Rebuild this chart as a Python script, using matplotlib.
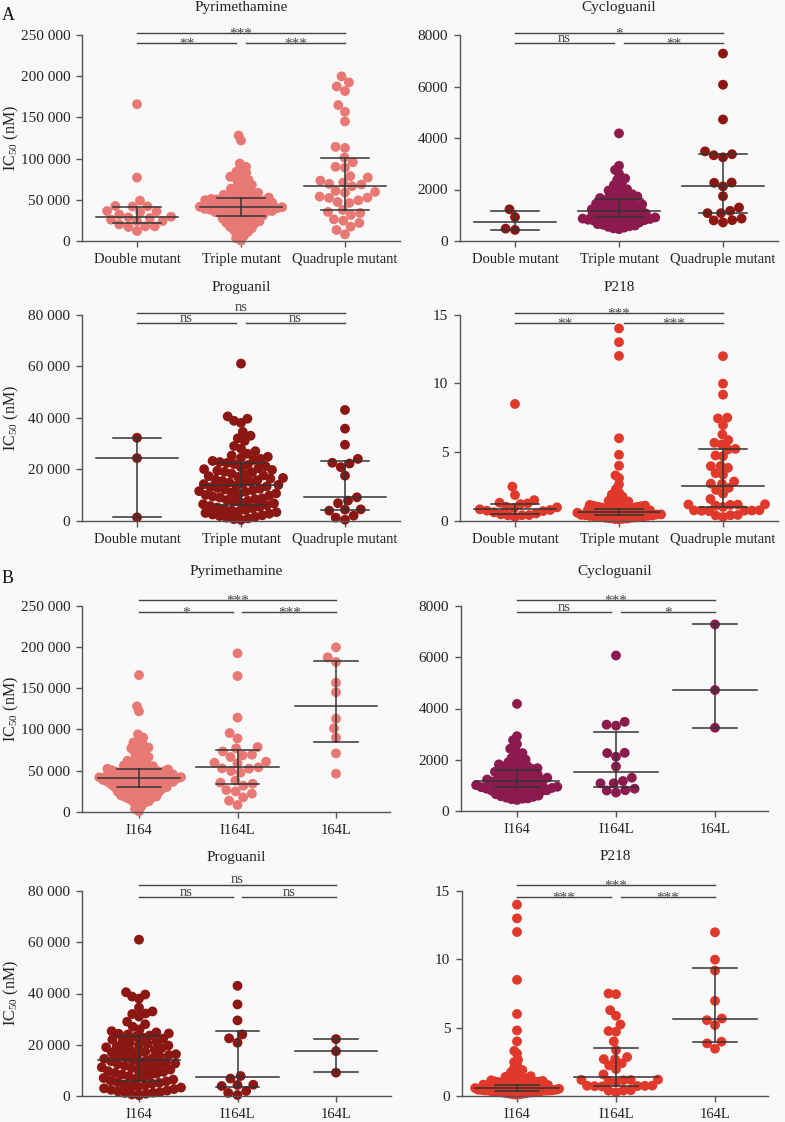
import numpy as np
import matplotlib
matplotlib.use("Agg")
import matplotlib.pyplot as plt
from matplotlib.transforms import blended_transform_factory

plt.rcParams['font.family'] = ['Liberation Serif', 'DejaVu Serif']
plt.rcParams['mathtext.fontset'] = 'custom'
plt.rcParams['mathtext.rm'] = 'Liberation Serif'

# ---------------- data ----------------
CAT_A = ["Double mutant", "Triple mutant", "Quadruple mutant"]
CAT_B = ["I164", "I164L", "164L"]

PYR_DOUBLE = [166000, 77000, 49000, 42500, 42000, 41800, 36400, 36000, 34800, 32000, 29500,
              28700, 27900, 25900, 24300, 23900, 20200, 17800, 17800, 17000, 12100]
PYR_TRIPLE = [128000, 122000, 94000, 90000, 87500, 84000, 82500, 80500, 78000, 76500, 74000,
              72500, 70500, 68000, 66500, 65000, 63500, 62000, 61000, 60000, 58500, 57200,
              56100, 55300, 54200, 53600, 52800, 52100, 51400, 51000, 50400, 50000, 49600,
              49100, 48500, 48100, 47400, 47000, 46600, 46000, 45400, 45000, 44300, 44000,
              43500, 43100, 42600, 42000, 41500, 41100, 40800, 40400, 40100, 39800, 39400,
              38900, 38600, 38000, 37400, 37000, 36400, 36100, 35500, 35000, 34400, 34000,
              33100, 32500, 31900, 31000, 30600, 30000, 29100, 28200, 27000, 26100, 25200,
              24000, 23100, 22000, 21200, 19800, 18600, 17100, 15400, 14100, 12600, 10900,
              9100, 6200, 3400, 500]
PYR_I164L = [192500, 164900, 114300, 95600, 89100, 78600, 77000, 73300, 69300, 68500, 66500,
             60800, 59600, 58700, 53900, 52700, 52300, 49400, 47400, 37700, 35300, 34000,
             31600, 26300, 24700, 21900, 17400, 13400, 8100]
PYR_164L = [199800, 187600, 182000, 156800, 145100, 113000, 101300, 90000, 70900, 46200]
PYR_A_MED = [29500, 41500, 66700]
PYR_A_Q1 = [22200, 30700, 37500]
PYR_A_Q3 = [41300, 52600, 101100]
PYR_B_MED = [40500, 53900, 128900]
PYR_B_Q1 = [30400, 33200, 85100]
PYR_B_Q3 = [51500, 75000, 183500]

CYC_DOUBLE = [1230, 930, 430, 480]
CYC_TRIPLE = [4180, 2920, 2760, 2610, 2430, 2370, 2260, 2170, 2080, 2010, 1960, 1910, 1870,
              1820, 1790, 1760, 1730, 1700, 1670, 1640, 1610, 1590, 1560, 1530, 1500, 1470,
              1450, 1420, 1400, 1370, 1350, 1320, 1300, 1280, 1250, 1230, 1210, 1190, 1170,
              1150, 1130, 1110, 1090, 1070, 1050, 1030, 1010, 990, 975, 960, 945, 930, 915,
              900, 885, 870, 855, 840, 825, 810, 795, 780, 765, 745, 725, 705, 680, 655, 630,
              600, 575, 550, 520, 490, 460]
CYC_I164L = [6070, 3480, 3370, 3330, 2270, 2260, 2120, 1740, 1300, 1170, 1080, 1080, 870,
             800, 810, 720]
CYC_164L = [7280, 4720, 3250]
CYC_A_MED = [725, 1180, 2120]
CYC_A_Q1 = [440, 930, 1070]
CYC_A_Q3 = [1180, 1620, 3380]
CYC_B_MED = [1170, 1535, 4720]
CYC_B_Q1 = [920, 920, 3250]
CYC_B_Q3 = [1590, 3070, 7280]

PRO_DOUBLE = [32200, 24300, 1300]
PRO_TRIPLE = [61000, 40500, 39600, 38800, 38000,
              34500, 33000, 32000, 31000,
              29000, 28000, 27000, 26000, 25300,
              24800, 24400, 24000, 23600, 23200, 22800, 22400, 22000, 21600, 21200, 20800,
              20400, 20000,
              19700, 19400, 19000, 18700, 18300, 18000, 17600, 17300, 17000, 16600, 16300,
              16000, 15700, 15400, 15100,
              14800, 14500, 14200, 13900, 13600, 13300, 13000, 12700, 12400, 12100, 11800,
              11500, 11200, 10900, 10600, 10300, 10000,
              9700, 9400, 9000, 8700, 8400, 8000, 7700, 7400, 7000, 6700, 6400, 6000, 5700,
              5400, 5100,
              4800, 4500, 4200, 3900, 3600, 3300, 3000, 2700, 2400, 2100,
              1800, 1500, 1200, 900, 600, 300]
PRO_I164L = [43000, 35750, 29500, 24000, 22500, 20800, 7800, 6800, 4300, 4400, 3900, 1950,
             1200, 400]
PRO_164L = [22200, 17500, 9100]
PRO_A_MED = [24300, 13800, 9200]
PRO_A_Q1 = [1300, 5950, 4140]
PRO_A_Q3 = [32200, 22300, 23200]
PRO_B_MED = [14000, 7300, 17600]
PRO_B_Q1 = [5980, 3500, 9200]
PRO_B_Q3 = [23400, 25400, 22300]

P218_DOUBLE = [8.5, 2.48, 1.87, 1.5, 1.31, 1.26, 1.21, 1.02, 0.97, 0.92, 0.83, 0.78, 0.73,
               0.70, 0.61, 0.53, 0.46, 0.41, 0.40, 0.39, 0.27]
P218_TRIPLE = [14.0, 13.0, 12.0, 6.0, 4.8, 4.0, 3.3, 3.1, 2.65, 2.3, 2.05, 1.9, 1.75, 1.65,
               1.55, 1.45, 1.4, 1.3, 1.25, 1.2, 1.15, 1.12, 1.1, 1.08, 1.05, 1.02, 1.0, 0.98,
               0.95, 0.92, 0.9, 0.88, 0.85, 0.82, 0.8, 0.78, 0.75, 0.72, 0.7, 0.68, 0.66, 0.64,
               0.62, 0.6, 0.58, 0.56, 0.55, 0.53, 0.52, 0.5, 0.48, 0.46, 0.45, 0.43, 0.42,
               0.4, 0.38, 0.36, 0.35, 0.33, 0.31, 0.3, 0.28, 0.26, 0.24, 0.22, 0.2, 0.18,
               0.16, 0.14, 0.12, 0.1]
P218_I164L = [7.5, 7.45, 6.28, 5.87, 5.23, 4.75, 4.70, 3.99, 3.36, 2.85, 2.7, 2.68, 2.39,
              2.24, 1.97, 1.58, 1.2, 1.18, 1.17, 1.15, 1.1, 1.0, 0.76, 0.75, 0.74, 0.73, 0.72,
              0.7, 0.42, 0.4, 0.39, 0.27]
P218_164L = [11.98, 9.98, 9.18, 6.96, 5.67, 5.55, 5.19, 3.97, 3.85, 3.46]
P218_A_MED = [0.87, 0.6, 2.55]
P218_A_Q1 = [0.46, 0.41, 1.02]
P218_A_Q3 = [1.19, 0.83, 5.19]
P218_B_MED = [0.58, 1.36, 5.6]
P218_B_Q1 = [0.39, 0.73, 3.94]
P218_B_Q3 = [0.8, 3.48, 9.37]

SIG_PYR_A = ["***", "**", "***"]
SIG_CYC_A = ["*", "ns", "**"]
SIG_PRO_A = ["ns", "ns", "ns"]
SIG_P218_A = ["***", "**", "***"]
SIG_PYR_B = ["***", "*", "***"]
SIG_CYC_B = ["***", "ns", "*"]
SIG_PRO_B = ["ns", "ns", "ns"]
SIG_P218_B = ["***", "***", "***"]

C_PYR = "#E87874"
C_CYC = "#8C1A4E"
C_PRO = "#8B1612"
C_P218 = "#E0382A"

# ---------------- figure ----------------
W, H = 785, 1122
BG = "#F9F9F9"
fig = plt.figure(figsize=(W / 100, H / 100), dpi=100, facecolor=BG)

LINE_C = "#333333"
SPINE_C = "#555555"
MAXW = 42.0  # max half-width of a swarm, px
DOT_S = 50


def fmt_tick(v):
    v = int(round(v))
    if v >= 10000:
        return f"{v:,}".replace(",", " ")
    return str(v)


def swarm_offsets(ypix, dmin):
    ypix = np.asarray(ypix, float)
    order = np.argsort(ypix)
    xs = np.zeros(len(ypix))
    px, py = [], []
    for i in order:
        y = ypix[i]
        ints = []
        for a, b in zip(px, py):
            dy = abs(b - y)
            if dy < dmin:
                h = np.sqrt(dmin ** 2 - dy ** 2)
                ints.append((a - h, a + h))
        cands = [0.0] + [a for a, _ in ints] + [b for _, b in ints]
        cands.sort(key=lambda c: (abs(c), c))
        for c in cands:
            if all(not (a + 1e-6 < c < b - 1e-6) for a, b in ints):
                xs[i] = c
                break
        px.append(xs[i])
        py.append(y)
    m = np.max(np.abs(xs)) if len(xs) else 0
    if m > MAXW:
        xs *= MAXW / m
    return xs


def draw_panel(box, xlim, title, title_y, cats, groups, colors, dmins, med, q1, q3,
               ymax, yticks, sig, bars, ylabel, mw, cw):
    x0, x1, ytop, ybot = box
    ax = fig.add_axes([x0 / W, 1 - ybot / H, (x1 - x0) / W, (ybot - ytop) / H])
    ax.set_facecolor(BG)
    ax.set_xlim(*xlim)
    ax.set_ylim(0, ymax)
    for s in ("top", "right"):
        ax.spines[s].set_visible(False)
    for s in ("left", "bottom"):
        ax.spines[s].set_color(SPINE_C)
        ax.spines[s].set_linewidth(1.0)
    ax.set_xticks(range(len(cats)))
    ax.set_xticklabels(cats, fontsize=10.5, color="#222222")
    ax.set_yticks(yticks)
    ax.set_yticklabels([fmt_tick(v) for v in yticks], fontsize=11, color="#222222")
    ax.tick_params(axis="both", length=4.5, width=1.0, color=SPINE_C, pad=4)

    for i, (vals, col, dm) in enumerate(zip(groups, colors, dmins)):
        vals = np.asarray(vals, float)
        disp = ax.transData.transform(np.column_stack([np.full(len(vals), float(i)), vals]))
        offs = swarm_offsets(disp[:, 1], dm)
        disp[:, 0] += offs
        pts = ax.transData.inverted().transform(disp)
        ax.scatter(pts[:, 0], pts[:, 1], s=DOT_S, color=col, edgecolors="none", zorder=2,
                   clip_on=False)
        ax.plot([i - mw, i + mw], [med[i], med[i]], color=LINE_C, lw=1.1, zorder=3)
        ax.plot([i - cw, i + cw], [q1[i], q1[i]], color=LINE_C, lw=1.1, zorder=3)
        ax.plot([i - cw, i + cw], [q3[i], q3[i]], color=LINE_C, lw=1.1, zorder=3)
        ax.plot([i, i], [q1[i], q3[i]], color=LINE_C, lw=1.1, zorder=3)

    tr = blended_transform_factory(ax.transData, ax.transAxes)
    ytop_bar, ylow_bar = bars
    segs = [((0, 2), ytop_bar, sig[0]), ((0, 0.95), ylow_bar, sig[1]),
            ((1.05, 2), ylow_bar, sig[2])]
    for (a, b), yb, lab in segs:
        ax.plot([a, b], [yb, yb], transform=tr, color="#444444", lw=1.0, clip_on=False)
        xm = 1 if (a, b) == (0, 2) else (a + b) / 2
        if lab == "ns":
            ax.annotate(lab, (xm, yb), xycoords=tr, xytext=(0, 1.0), textcoords="offset points",
                        ha="center", va="baseline", fontsize=10.5, color="#444444")
        else:
            ax.annotate(lab, (xm, yb), xycoords=tr, xytext=(0, -3.2), textcoords="offset points",
                        ha="center", va="baseline", fontsize=11, color="#444444")

    fig.text((x0 + x1) / 2 / W, 1 - title_y / H, title, ha="center", va="center",
             fontsize=11, color="#222222")
    if ylabel:
        fig.text(11 / W, 1 - (ytop + ybot) / 2 / H, "IC$_{\\mathrm{50}}$ (nM)", rotation=90,
                 ha="center", va="center", fontsize=11.5, color="#222222")
    return ax


def xl(x0, x1, c0, sp):
    return ((x0 - c0) / sp, (x1 - c0) / sp)


DENSE = 5.5
SPARSE = 9.5

LA = (82, 400, 137, 104)
RA = (460, 778, 515, 104)
LB = (82, 390, 139, 98.5)
RB = (461, 768, 517, 99)

# ---- Panel A ----
draw_panel((LA[0], LA[1], 35, 241), xl(*LA), "Pyrimethamine", 8, CAT_A,
           [PYR_DOUBLE, PYR_TRIPLE, PYR_I164L + PYR_164L], [C_PYR] * 3,
           [SPARSE, DENSE, SPARSE], PYR_A_MED, PYR_A_Q1, PYR_A_Q3,
           250000, [0, 50000, 100000, 150000, 200000, 250000], SIG_PYR_A, (1.01, 0.96), True,
           0.39, 0.23)
draw_panel((RA[0], RA[1], 35, 241), xl(*RA), "Cycloguanil", 8, CAT_A,
           [CYC_DOUBLE, CYC_TRIPLE, CYC_I164L + CYC_164L], [C_PRO, C_CYC, C_PRO],
           [SPARSE, DENSE, SPARSE], CYC_A_MED, CYC_A_Q1, CYC_A_Q3,
           8000, [0, 2000, 4000, 6000, 8000], SIG_CYC_A, (1.01, 0.96), False, 0.39, 0.23)
draw_panel((LA[0], LA[1], 314.7, 520.7), xl(*LA), "Proguanil", 287, CAT_A,
           [PRO_DOUBLE, PRO_TRIPLE, PRO_I164L + PRO_164L], [C_PRO] * 3,
           [SPARSE, 9.0, SPARSE], PRO_A_MED, PRO_A_Q1, PRO_A_Q3,
           80000, [0, 20000, 40000, 60000, 80000], SIG_PRO_A, (1.01, 0.96), True, 0.39, 0.23)
draw_panel((RA[0], RA[1], 314.7, 520.7), xl(*RA), "P218", 287, CAT_A,
           [P218_DOUBLE, P218_TRIPLE, P218_I164L + P218_164L], [C_P218] * 3,
           [9.0, 5.0, 9.0], P218_A_MED, P218_A_Q1, P218_A_Q3,
           15, [0, 5, 10, 15], SIG_P218_A, (1.01, 0.96), False, 0.39, 0.23)

# ---- Panel B ----
draw_panel((LB[0], LB[1], 606, 811.7), xl(*LB), "Pyrimethamine", 572, CAT_B,
           [PYR_DOUBLE + PYR_TRIPLE, PYR_I164L, PYR_164L], [C_PYR] * 3,
           [DENSE, SPARSE, SPARSE], PYR_B_MED, PYR_B_Q1, PYR_B_Q3,
           250000, [0, 50000, 100000, 150000, 200000, 250000], SIG_PYR_B, (1.03, 0.97), True,
           0.42, 0.22)
draw_panel((RB[0], RB[1], 606, 811), xl(*RB), "Cycloguanil", 572, CAT_B,
           [CYC_DOUBLE + CYC_TRIPLE, CYC_I164L, CYC_164L], [C_CYC] * 3,
           [DENSE, SPARSE, SPARSE], CYC_B_MED, CYC_B_Q1, CYC_B_Q3,
           8000, [0, 2000, 4000, 6000, 8000], SIG_CYC_B, (1.03, 0.97), False, 0.42, 0.22)
draw_panel((LB[0], 391, 891, 1096), xl(LB[0], 391, LB[2], LB[3]), "Proguanil", 857, CAT_B,
           [PRO_DOUBLE + PRO_TRIPLE, PRO_I164L, PRO_164L], [C_PRO] * 3,
           [8.5, SPARSE, SPARSE], PRO_B_MED, PRO_B_Q1, PRO_B_Q3,
           80000, [0, 20000, 40000, 60000, 80000], SIG_PRO_B, (1.03, 0.97), True, 0.42, 0.22)
draw_panel((462, RB[1], 891, 1096), xl(462, RB[1], RB[2], RB[3]), "P218", 857, CAT_B,
           [P218_DOUBLE + P218_TRIPLE, P218_I164L, P218_164L], [C_P218] * 3,
           [5.0, 9.0, SPARSE], P218_B_MED, P218_B_Q1, P218_B_Q3,
           15, [0, 5, 10, 15], SIG_P218_B, (1.03, 0.97), False, 0.42, 0.22)

fig.text(2 / W, 1 - 20 / H, "A", ha="left", va="baseline", fontsize=13, color="#111111")
fig.text(2 / W, 1 - 583 / H, "B", ha="left", va="baseline", fontsize=13, color="#111111")

fig.savefig("out.png", dpi=100, facecolor=BG)
